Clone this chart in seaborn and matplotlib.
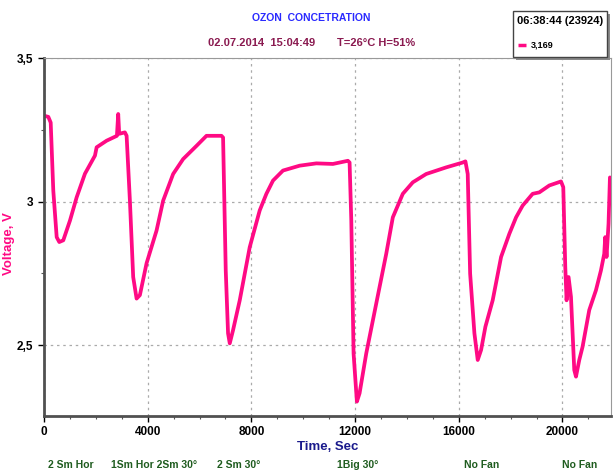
import matplotlib.pyplot as plt
import matplotlib.ticker as mticker
import seaborn as sns
import pandas as pd

# time (s) and sensor voltage (V)
time_s = [0, 166, 258, 358, 489, 589, 743, 1002, 1260, 1579, 1965, 2030, 2415, 2812, 2862, 2900,
          3120, 3186, 3313, 3440, 3571, 3698, 3956, 4341, 4595, 4981, 5366, 5882, 6267, 6845,
          6907, 7010, 7099, 7165, 7292, 7550, 7935, 8320, 8578, 8833, 9218, 9861, 10505, 11144,
          11722, 11787, 11853, 11941, 12069, 12172, 12430, 12816, 13201, 13455, 13840, 14226,
          14742, 15512, 16152, 16255, 16344, 16437, 16602, 16730, 16860, 17026, 17307, 17631,
          17951, 18209, 18463, 18848, 19106, 19491, 19942, 20030, 20107, 20157, 20234, 20327,
          20454, 20520, 20647, 20774, 21032, 21290, 21483, 21610, 21648, 21699, 21776, 21830]
voltage = [3.299, 3.295, 3.275, 3.038, 2.876, 2.859, 2.865, 2.934, 3.015, 3.097, 3.160, 3.189,
           3.212, 3.229, 3.305, 3.236, 3.241, 3.229, 3.003, 2.737, 2.662, 2.674, 2.785, 2.899,
           3.003, 3.096, 3.148, 3.194, 3.229, 3.229, 3.223, 2.760, 2.541, 2.506, 2.552, 2.656,
           2.841, 2.969, 3.027, 3.073, 3.108, 3.125, 3.133, 3.131, 3.142, 3.136, 2.934, 2.471,
           2.303, 2.332, 2.471, 2.645, 2.818, 2.945, 3.027, 3.067, 3.096, 3.119, 3.136, 3.140,
           3.096, 2.749, 2.541, 2.448, 2.483, 2.564, 2.656, 2.807, 2.888, 2.945, 2.986, 3.027,
           3.032, 3.056, 3.070, 3.050, 2.772, 2.656, 2.737, 2.668, 2.413, 2.390, 2.448, 2.494,
           2.622, 2.691, 2.760, 2.818, 2.876, 2.807, 2.923, 3.084]

x_ticks = [0, 4000, 8000, 12000, 16000, 20000]
y_ticks = [2.5, 3.0, 3.5]
y_tick_labels = ["2,5", "3", "3,5"]

# fan setup notes under the axis (label, time position)
fan_notes = ["2 Sm Hor", "1Sm Hor 2Sm 30°", "2 Sm 30°", "1Big 30°", "No Fan", "No Fan"]
fan_note_x = [1040, 4237, 7511, 12095, 16872, 20647]

df = pd.DataFrame({"Time, Sec": time_s, "Voltage, V": voltage})

sns.set_style("ticks")
plt.rcParams['font.family'] = ['Liberation Sans', 'DejaVu Sans']
plt.rcParams['font.weight'] = 'bold'

pink = '#ff0a84'

fig = plt.figure(figsize=(6.13, 4.74), dpi=100)
ax = fig.add_axes([0.0718, 0.1224, 0.9249, 0.7552])

sns.lineplot(data=df, x="Time, Sec", y="Voltage, V", ax=ax, color=pink, linewidth=2.7)

ax.set_xlim(0, 21870)
ax.set_ylim(2.253, 3.5)
ax.set_xticks(x_ticks)
ax.set_yticks(y_ticks)
ax.set_yticklabels(y_tick_labels)
ax.xaxis.set_minor_locator(mticker.MultipleLocator(1000))
ax.yaxis.set_minor_locator(mticker.MultipleLocator(0.25))
ax.tick_params(axis='both', which='major', labelsize=8.5, length=4, width=1, colors='black')
ax.tick_params(axis='both', which='minor', length=2.5, width=0.8, color='#555555')
for lab in ax.get_xticklabels() + ax.get_yticklabels():
    lab.set_fontweight('bold')

ax.grid(True, which='major', linestyle=(0, (2, 3)), color='#aaaaaa', linewidth=0.9)

for side in ['left', 'bottom']:
    ax.spines[side].set_color('#505050')
    ax.spines[side].set_linewidth(2)
for side in ['top', 'right']:
    ax.spines[side].set_color('#999999')
    ax.spines[side].set_linewidth(0.8)

ax.set_xlabel("Time, Sec", color='#1a1a8c', fontsize=9.5, fontweight='bold', labelpad=2)
ax.set_ylabel("Voltage, V", color=pink, fontsize=9.5, fontweight='bold')
ax.yaxis.set_label_coords(-0.051, 0.483)

fig.text(0.507, 0.962, "OZON  CONCETRATION", color='#2a2aff', fontsize=7.5,
         ha='center', va='center', fontweight='bold')
fig.text(0.339, 0.909, "02.07.2014  15:04:49", color='#8a1a50', fontsize=8,
         ha='left', va='center', fontweight='bold')
fig.text(0.550, 0.909, "T=26°C H=51%", color='#8a1a50', fontsize=8,
         ha='left', va='center', fontweight='bold')

for note, nx in zip(fan_notes, fan_note_x):
    ax.annotate(note, xy=(nx, 0), xycoords=('data', 'figure fraction'),
                xytext=(0, 6.5), textcoords='offset points', ha='center', va='center',
                color='#1f5c1f', fontsize=7.5, fontweight='bold', annotation_clip=False)

# readout box in the top right corner
shadow = plt.Rectangle((0.842, 0.874), 0.153, 0.097, transform=fig.transFigure,
                       facecolor='#8a8a8a', edgecolor='none', zorder=1)
box = plt.Rectangle((0.837, 0.880), 0.153, 0.097, transform=fig.transFigure,
                    facecolor='white', edgecolor='#444444', linewidth=1, zorder=2)
fig.patches.extend([shadow, box])
fig.text(0.9135, 0.955, "06:38:44 (23924)", color='black', fontsize=8, ha='center',
         va='center', fontweight='bold', zorder=3)
fig.add_artist(plt.Line2D([0.845, 0.858], [0.905, 0.905], transform=fig.transFigure,
                          color=pink, linewidth=2.5, solid_capstyle='butt', zorder=3))
fig.text(0.866, 0.905, "3,169", color='black', fontsize=6.5, ha='left', va='center', zorder=3)

fig.savefig("out.png", dpi=100)
